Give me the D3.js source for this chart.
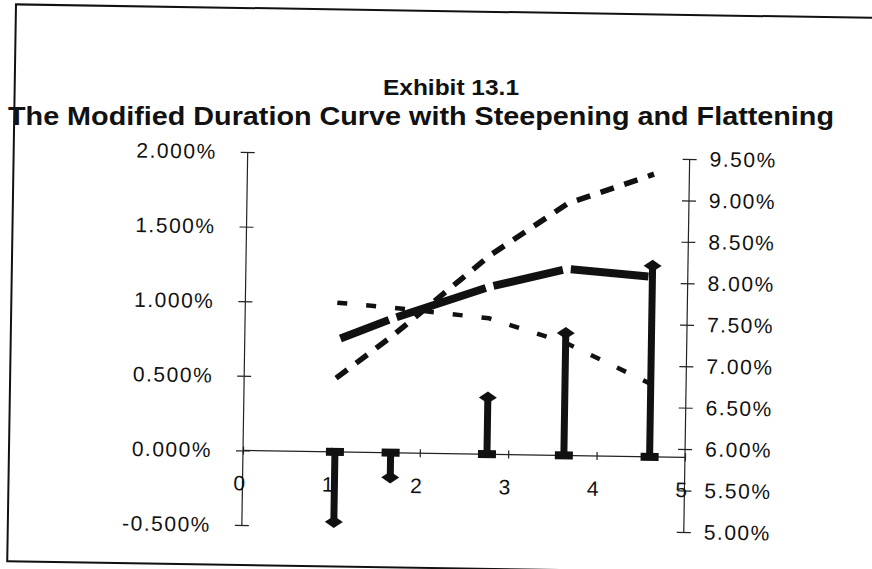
<!DOCTYPE html>
<html>
<head>
<meta charset="utf-8">
<script src="https://cdn.jsdelivr.net/npm/d3@7/dist/d3.min.js"></script>
<style>
  html, body { margin: 0; padding: 0; background: #fff; }
  svg { display: block; }
  .tick text { font-family: "Liberation Sans", Arial, Helvetica, sans-serif; }
</style>
</head>
<body>
<svg id="chart" width="872" height="569"></svg>
<script>
// ---- data ----
const durations = [1.04, 1.67, 2.76, 3.63, 4.60];          // x (modified duration)
const priceChange = [-0.47, -0.166, 0.38, 0.82, 1.28];      // stems, left axis (%)
const baseCurve = [7.25, 7.52, 7.92, 8.15, 8.07];           // right axis (%)
const steepCurve = [6.79, 7.31, 8.30, 8.94, 9.31];          // right axis (%)
const flatCurve = [7.70, 7.65, 7.54, 7.26, 6.78];           // right axis (%)
const xTicks = [0, 1, 2, 3, 4, 5];
const leftTicks = [-0.5, 0, 0.5, 1.0, 1.5, 2.0];
const rightTicks = [5.0, 5.5, 6.0, 6.5, 7.0, 7.5, 8.0, 8.5, 9.0, 9.5];
const title1 = "Exhibit 13.1";
const title2 = "The Modified Duration Curve with Steepening and Flattening";

const svg = d3.select("#chart");
const root = svg.append("g").attr("transform", "rotate(0.9,243,451)");

const x = d3.scaleLinear().domain([0, 5]).range([243, 685]);
const yL = d3.scaleLinear().domain([-0.5, 2.0]).range([525, 152]);
const yR = d3.scaleLinear().domain([5.0, 9.5]).range([525, 152]);

// border
root.append("rect").attr("x", 9).attr("y", 8).attr("width", 900).attr("height", 557)
  .attr("fill", "none").attr("stroke", "#111").attr("stroke-width", 2);

// titles (kept level so their boxes don't collide)
const tf = '"Liberation Sans Narrow", "Arial Narrow", "Liberation Sans", Arial, sans-serif';
svg.append("text").attr("x", 451).attr("y", 95).attr("text-anchor", "middle")
  .attr("font-family", tf).attr("font-weight", "bold").attr("font-size", 22)
  .attr("textLength", 136).attr("lengthAdjust", "spacingAndGlyphs")
  .attr("fill", "#111").text(title1);
svg.append("text").attr("x", 421).attr("y", 125).attr("text-anchor", "middle")
  .attr("font-family", tf).attr("font-weight", "bold").attr("font-size", 26)
  .attr("textLength", 826).attr("lengthAdjust", "spacingAndGlyphs")
  .attr("fill", "#111").text(title2);

const fontSize = 21, ls = 1.5;
function styleAxis(g) {
  g.select(".domain").attr("stroke", "#222").attr("stroke-width", 1.2);
  g.selectAll(".tick line").attr("stroke", "#222").attr("stroke-width", 1.2);
  g.selectAll(".tick text").attr("font-size", fontSize).attr("letter-spacing", ls).attr("fill", "#111");
}

// left axis
const gL = root.append("g").attr("transform", `translate(${x(0)},0)`)
  .call(d3.axisLeft(yL).tickValues(leftTicks).tickSize(7).tickPadding(24)
    .tickFormat(d => d.toFixed(3) + "%"));
styleAxis(gL);
gL.selectAll(".tick line").attr("x1", 7);
gL.select(".domain").attr("d", `M0,${yL(-0.5)}V${yL(2.0)}`);

// right axis
const gR = root.append("g").attr("transform", `translate(${x(5)},0)`)
  .call(d3.axisRight(yR).tickValues(rightTicks).tickSize(7).tickPadding(13)
    .tickFormat(d => d.toFixed(2) + "%"));
styleAxis(gR);
gR.selectAll(".tick line").attr("x1", -7);
gR.select(".domain").attr("d", `M0,${yR(5.0)}V${yR(9.5)}`);

// x axis at 0 of left axis
const gX = root.append("g").attr("transform", `translate(0,${yL(0)})`)
  .call(d3.axisBottom(x).tickValues(xTicks).tickSize(4).tickPadding(21)
    .tickFormat(d3.format("d")));
styleAxis(gX);
gX.selectAll(".tick line").attr("y1", -4);
gX.select(".domain").attr("d", `M${x(0)},0H${x(5)}`);
gX.selectAll(".tick text").attr("dx", -3);

// steepening curve (dashed)
const lineR = d3.line().x((d, i) => x(durations[i])).y(d => yR(d));
root.append("path").datum(steepCurve).attr("d", lineR)
  .attr("fill", "none").attr("stroke", "#111").attr("stroke-width", 5.5)
  .attr("stroke-dasharray", "14,11");

// flattening curve (dashed)
root.append("path").datum(flatCurve).attr("d", lineR)
  .attr("fill", "none").attr("stroke", "#111").attr("stroke-width", 4.5)
  .attr("stroke-dasharray", "10,19");

// base curve: thick segments with small gaps at vertices
const segs = d3.pairs(baseCurve.map((v, i) => [x(durations[i]), yR(v)]));
function shrink(a, b, g) { const L = Math.hypot(b[0]-a[0], b[1]-a[1]); return [a[0] + (b[0]-a[0]) * g / L, a[1] + (b[1]-a[1]) * g / L]; }
root.selectAll(".base").data(segs).join("line")
  .attr("x1", d => shrink(d[0], d[1], 4)[0])
  .attr("y1", d => shrink(d[0], d[1], 4)[1])
  .attr("x2", d => shrink(d[1], d[0], 4)[0])
  .attr("y2", d => shrink(d[1], d[0], 4)[1])
  .attr("stroke", "#111").attr("stroke-width", 8);

// stems
const stems = root.append("g");
durations.forEach((t, i) => {
  const v = priceChange[i];
  const cx = x(t), y0 = yL(0), y1 = yL(v);
  stems.append("rect").attr("x", cx - 3.5).attr("width", 7)
    .attr("y", Math.min(y0, y1)).attr("height", Math.abs(y1 - y0)).attr("fill", "#111");
  stems.append("rect").attr("x", cx - 9).attr("y", y0 - 4).attr("width", 18).attr("height", 8).attr("fill", "#111");
  stems.append("path").attr("d", `M${cx},${y1 - 6}L${cx + 9},${y1}L${cx},${y1 + 6}L${cx - 9},${y1}Z`).attr("fill", "#111");
});
</script>
</body>
</html>
